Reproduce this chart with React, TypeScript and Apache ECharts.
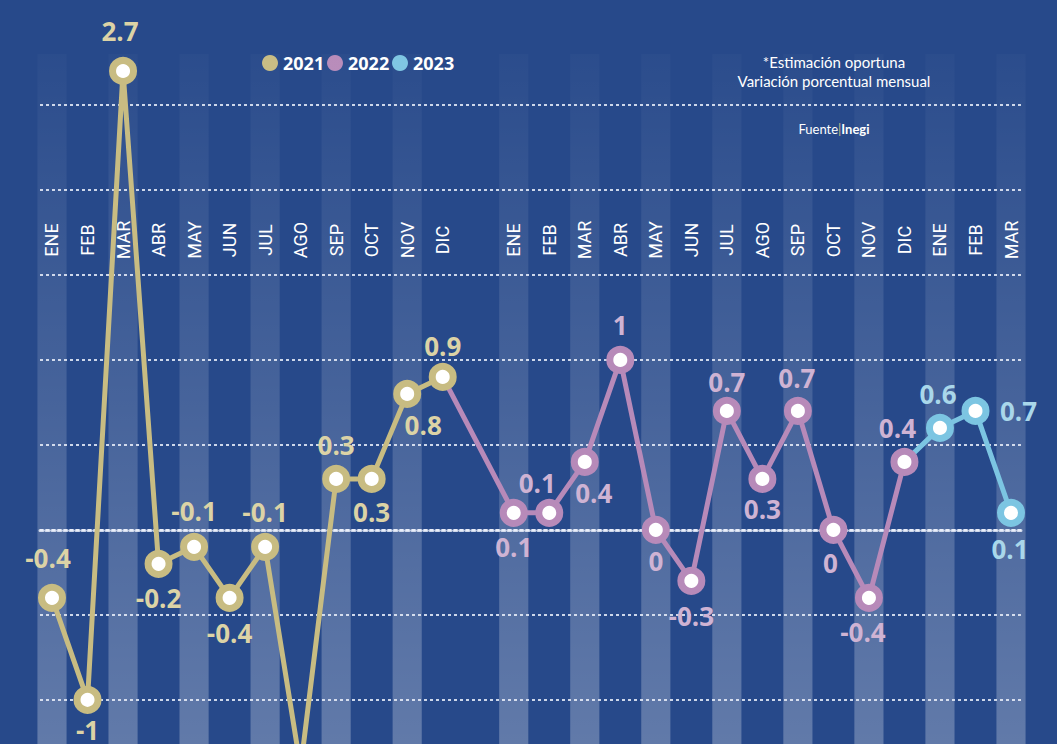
import React, { useEffect, useRef } from "react";
import * as echarts from "echarts";

// ---------- data ----------
const MONTHS = ["ENE", "FEB", "MAR", "ABR", "MAY", "JUN", "JUL", "AGO", "SEP", "OCT", "NOV", "DIC"];
const MONTHS_2023 = ["ENE", "FEB", "MAR"];
// one empty slot separates 2021 from 2022
const CATEGORIES = [...MONTHS, "", ...MONTHS, ...MONTHS_2023];
const START_2021 = 0;
const START_2022 = 13;
const START_2023 = 25;

const VALUES_2021 = [-0.4, -1, 2.7, -0.2, -0.1, -0.4, -0.1, -1.4, 0.3, 0.3, 0.8, 0.9];
const VALUES_2022 = [0.1, 0.1, 0.4, 1, 0, -0.3, 0.7, 0.3, 0.7, 0, -0.4, 0.4];
const VALUES_2023 = [0.6, 0.7, 0.1];

const YEARS = ["2021", "2022", "2023"];

// value-axis ranges
const Y_MIN = -1.26;
const Y_MAX = 2.8;
const GRID_MIN = -1;
const GRID_MAX = 2.5;
const GRID_STEP = 0.5;

// label offsets (layout only), null = no label
const OFFSETS_2021: (number[] | null)[] = [
  [-4, -40], [0, 30], [-3, -40], [0, 34], [0, -36], [0, 35], [0, -35], null, [0, -34], [0, 33], [16, 31], [0, -31],
];
const OFFSETS_2022: (number[] | null)[] = [
  [0, 34], [-12, -30], [9, 31], [0, -35], [0, 31], [0, 35], [0, -29], [0, 30], [-1, -33], [-3, 33], [-6, 34], [-7, -34],
];
const OFFSETS_2023: (number[] | null)[] = [[-2, -34], [43, 0], [-1, 36]];

// ---------- styles ----------
const BG = "#27498a";
const GOLD = "#c8bc82";
const GOLD_LABEL = "#dcd3a6";
const PURPLE = "#b78ab9";
const PURPLE_LABEL = "#cfb3d3";
const BLUE = "#7cc5e2";
const BLUE_LABEL = "#a9d7ea";
const DOT = "rgba(235,240,250,0.85)";
const VALUE_FONT = "'Open Sans', 'Noto Sans', sans-serif";
const TEXT_FONT = "Lato, 'Open Sans', sans-serif";
const MONTH_FONT = "'Liberation Sans Narrow', Roboto, 'Noto Sans', sans-serif";

function buildSeries(
  name: string,
  start: number,
  values: number[],
  offsets: (number[] | null)[],
  prev: [number, number] | null,
  color: string,
  labelColor: string
) {
  const data: any[] = [];
  if (prev) {
    data.push({ value: prev, symbol: "none", label: { show: false } });
  }
  values.forEach((v, i) => {
    const off = offsets[i];
    data.push({
      value: [start + i, v],
      label: off ? { show: true, offset: off } : { show: false },
    });
  });
  return {
    name,
    type: "line",
    xAxisIndex: 0,
    yAxisIndex: 0,
    data,
    clip: true,
    symbol: "circle",
    symbolSize: 21,
    lineStyle: { color, width: 5 },
    itemStyle: { color: "#ffffff", borderColor: color, borderWidth: 7 },
    label: {
      show: true,
      position: "inside",
      color: labelColor,
      fontSize: 26,
      lineHeight: 24,
      fontWeight: "bold",
      fontFamily: VALUE_FONT,
      formatter: (p: any) => String(p.value[1]),
    },
    emphasis: { disabled: true },
    z: 3,
  };
}

export default function App() {
  const ref = useRef<HTMLDivElement>(null);

  useEffect(() => {
    if (!ref.current) return;
    const chart = echarts.init(ref.current, undefined, { renderer: "svg" });

    // stripes on alternating months of each year
    const stripeSlots: number[] = [];
    MONTHS.forEach((_, i) => { if (i % 2 === 0) stripeSlots.push(START_2021 + i); });
    MONTHS.forEach((_, i) => { if (i % 2 === 0) stripeSlots.push(START_2022 + i); });
    MONTHS_2023.forEach((_, i) => { if (i % 2 === 0) stripeSlots.push(START_2023 + i); });

    const stripeFill = new echarts.graphic.LinearGradient(0, 0, 0, 1, [
      { offset: 0, color: "rgba(255,255,255,0.02)" },
      { offset: 1, color: "rgba(255,255,255,0.27)" },
    ]);

    const s2021 = buildSeries("2021", START_2021, VALUES_2021, OFFSETS_2021, null, GOLD, GOLD_LABEL);
    const s2022 = buildSeries(
      "2022", START_2022, VALUES_2022, OFFSETS_2022,
      [START_2021 + VALUES_2021.length - 1, VALUES_2021[VALUES_2021.length - 1]],
      PURPLE, PURPLE_LABEL
    );
    const s2023 = buildSeries(
      "2023", START_2023, VALUES_2023, OFFSETS_2023,
      [START_2022 + VALUES_2022.length - 1, VALUES_2022[VALUES_2022.length - 1]],
      BLUE, BLUE_LABEL
    );

    const legendColors = [GOLD, PURPLE, BLUE];

    const option: any = {
      animation: false,
      backgroundColor: BG,
      grid: [
        { left: 34.24, right: 28.24, top: 54, bottom: 0 },
        { left: 40, right: 34, top: 105, bottom: 44 },
      ],
      xAxis: [
        {
          type: "category",
          gridIndex: 0,
          data: CATEGORIES,
          position: "top",
          boundaryGap: true,
          axisLine: { show: false },
          axisTick: { show: false },
          splitLine: { show: false },
          axisLabel: {
            inside: true,
            rotate: 90,
            margin: 186,
            align: "center",
            verticalAlign: "middle",
            interval: 0,
            color: "#ffffff",
            fontSize: 18,
            fontFamily: MONTH_FONT,
          },
          z: 1,
        },
        {
          type: "value",
          gridIndex: 1,
          min: 0,
          max: 1,
          axisLabel: { show: false },
          axisTick: { show: false },
          splitLine: { show: false },
          axisLine: { show: true, onZero: true, lineStyle: { color: DOT, width: 3, type: [3, 3] } },
          z: 1,
        },
      ],
      yAxis: [
        { type: "value", gridIndex: 0, min: Y_MIN, max: Y_MAX, show: false },
        {
          type: "value",
          gridIndex: 1,
          min: GRID_MIN,
          max: GRID_MAX,
          interval: GRID_STEP,
          axisLabel: { show: false },
          axisTick: { show: false },
          axisLine: { show: false },
          splitLine: { show: true, lineStyle: { color: DOT, width: 2, type: [3, 3] } },
          z: 1,
        },
      ],
      graphic: [
        {
          type: "group",
          x: 262,
          y: 63,
          children: YEARS.flatMap((y, i) => [
            { type: "circle", shape: { cx: 8 + i * 65, cy: 0, r: 8 }, style: { fill: legendColors[i] } },
            {
              type: "text",
              x: 21 + i * 65,
              y: 0,
              style: {
                text: y,
                fill: "#ffffff",
                fontSize: 18,
                fontWeight: "bold",
                fontFamily: VALUE_FONT,
                textAlign: "left",
                textVerticalAlign: "middle",
              },
            },
          ]),
        },
        {
          type: "text",
          x: 834,
          y: 62,
          style: {
            text: "*Estimación oportuna",
            fill: "#ffffff",
            fontSize: 15,
            fontFamily: TEXT_FONT,
            textAlign: "center",
            textVerticalAlign: "middle",
          },
        },
        {
          type: "text",
          x: 834,
          y: 81,
          style: {
            text: "Variación porcentual mensual",
            fill: "#ffffff",
            fontSize: 15,
            fontFamily: TEXT_FONT,
            textAlign: "center",
            textVerticalAlign: "middle",
          },
        },
        {
          type: "text",
          x: 834,
          y: 129,
          style: {
            text: "{a|Fuente}{b||}{c|Inegi}",
            textAlign: "center",
            textVerticalAlign: "middle",
            rich: {
              a: { fill: "#ffffff", fontSize: 13, fontFamily: TEXT_FONT },
              b: { fill: GOLD, fontSize: 13, fontFamily: TEXT_FONT },
              c: { fill: "#ffffff", fontSize: 13, fontWeight: "bold", fontFamily: TEXT_FONT },
            },
          },
        },
      ],
      series: [
        {
          name: "stripes",
          type: "custom",
          xAxisIndex: 0,
          yAxisIndex: 0,
          silent: true,
          z: 0,
          data: stripeSlots.map((s) => [s]),
          renderItem: (params: any, api: any) => {
            const cx = api.coord([api.value(0), 0])[0];
            const w = api.size([1, 0])[0] * 0.82;
            const cs = params.coordSys;
            return {
              type: "rect",
              shape: { x: cx - w / 2, y: cs.y, width: w, height: cs.height },
              style: { fill: stripeFill },
            };
          },
        },
        s2023,
        s2022,
        s2021,
      ],
    };

    chart.setOption(option);
    return () => chart.dispose();
  }, []);

  return (
    <div
      ref={ref}
      style={{ position: "fixed", left: 0, top: 0, width: 1057, height: 744 }}
    />
  );
}
